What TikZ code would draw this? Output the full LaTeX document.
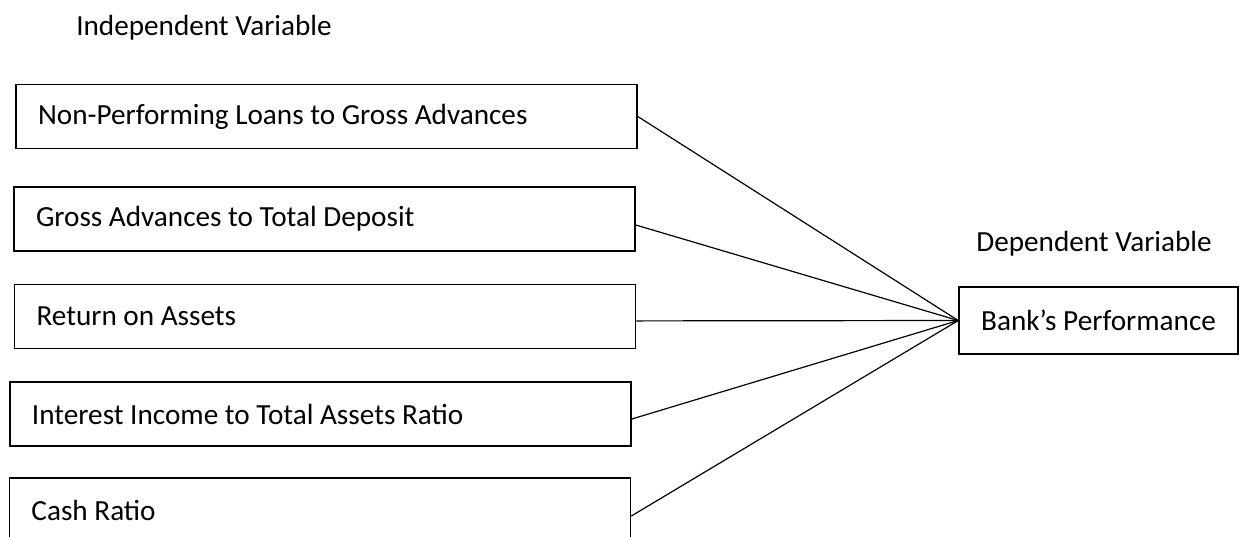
\documentclass[tikz,border=0pt]{standalone}
\usepackage{fontspec}
\setmainfont{Carlito}
\usetikzlibrary{positioning}

\begin{document}
\begin{tikzpicture}[x=0.5pt,y=-0.5pt,semithick,
		ivbox/.style={draw, line width=0.8pt, rectangle, minimum height=32pt, inner xsep=11pt,
			text width=288.5pt, align=flush left, font=\fontsize{14.6}{17}\selectfont},
		dvbox/.style={draw, line width=0.8pt, rectangle, minimum height=33.5pt, minimum width=139.5pt,
			font=\fontsize{14.6}{17}\selectfont},
		head/.style={font=\fontsize{14.6}{17}\selectfont}]
	\useasboundingbox (0,0) rectangle (1240,536);
	\node[head] (ihead) at (204, 28) {Independent Variable};
	\node[head] (dhead) at (1094, 244) {Dependent Variable};
	
	\node[ivbox] (iv1) at (326.5, 116.5) {Non-Performing Loans to Gross Advances};
	\node[ivbox] (iv2) at (324.5, 219) {Gross Advances to Total Deposit};
	\node[ivbox] (iv3) at (325, 316.5) {Return on Assets};
	\node[ivbox] (iv4) at (320.5, 414) {Interest Income to Total Assets Ratio};
	\node[ivbox] (iv5) at (320, 510) {Cash Ratio};
	
	\node[dvbox] (dv) at (1098.5, 320.5) {Bank’s Performance};
	
	%\path (iv1.east) edge (dv.west);
	\foreach \i/\s in {1/0, 2/-3, 3/-2.2, 4/-2.5, 5/-3}
		\path ([yshift=\s pt]iv\i.east) edge (dv.west);
\end{tikzpicture}
\end{document}
